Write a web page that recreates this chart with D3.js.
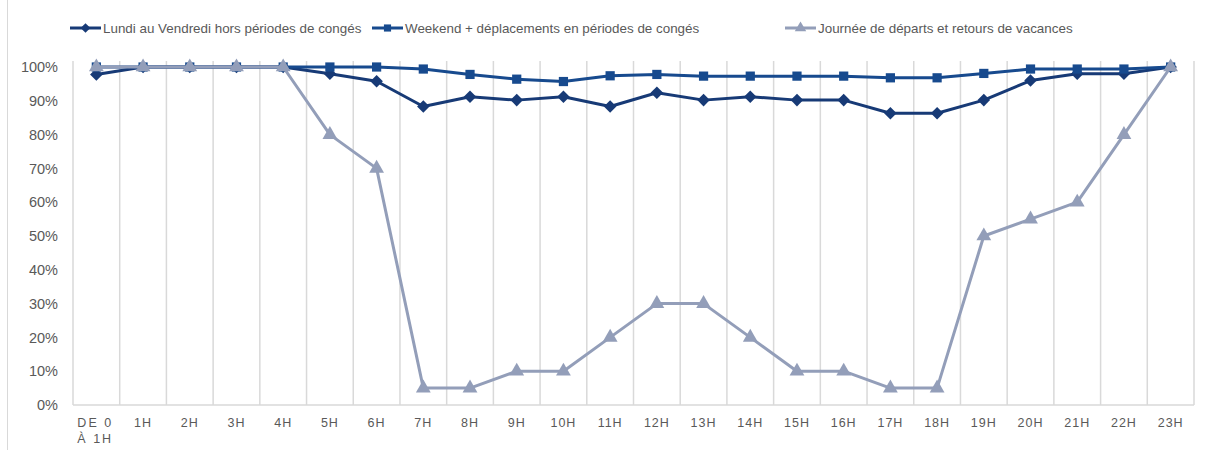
<!DOCTYPE html>
<html><head><meta charset="utf-8">
<script src="https://cdn.jsdelivr.net/npm/d3@7"></script>
<style>
body{margin:0;background:#fff;}
svg{display:block;font-family:"Liberation Sans",Arial,sans-serif;}
</style></head>
<body>
<svg id="chart" width="1214" height="450"></svg>
<script>
const categories = ["DE 0\nÀ 1H","1H","2H","3H","4H","5H","6H","7H","8H","9H","10H","11H","12H","13H","14H","15H","16H","17H","18H","19H","20H","21H","22H","23H"];
const seriesNames = ["Lundi au Vendredi hors périodes de congés","Weekend + déplacements en périodes de congés","Journée de départs et retours de vacances"];
const semaine = [97.8,100,100,100,100,98,95.8,88.3,91.2,90.2,91.2,88.3,92.4,90.2,91.2,90.2,90.2,86.3,86.3,90.2,96,98,98,100];
const weekend = [100,100,100,100,100,100,100,99.4,97.8,96.4,95.7,97.4,97.8,97.3,97.3,97.3,97.3,96.8,96.8,98.1,99.4,99.4,99.4,100];
const vacances = [100,100,100,100,100,80,70,5,5,10,10,20,30,30,20,10,10,5,5,50,55,60,80,100];
const yTicks = [0,10,20,30,40,50,60,70,80,90,100];

(function(){
const colors = ["#173a76","#174a8e","#939eb9"];
const symbols = [d3.symbolDiamond2, d3.symbolSquare, d3.symbolTriangle];
const symSizes = [100, 85, 95];
const allSeries = [semaine, weekend, vacances];

const svg = d3.select("#chart");
const mLeft = 73, mRight = 1194, mTop = 67, mBottom = 405;

svg.append("line").attr("x1",7.5).attr("x2",7.5).attr("y1",0).attr("y2",450).attr("stroke","#d9d9d9").attr("stroke-width",1);

const x = d3.scaleBand().domain(categories).range([mLeft,mRight]).padding(0);
const y = d3.scaleLinear().domain([0,100]).range([mBottom,mTop]);

const bounds = categories.map(c => x(c)).concat([mRight]);
svg.append("g").selectAll("line").data(bounds).join("line")
  .attr("x1",d=>d).attr("x2",d=>d).attr("y1",mTop-6).attr("y2",mBottom)
  .attr("stroke","#d9d9d9").attr("stroke-width",1.5);

svg.append("line").attr("x1",mLeft).attr("x2",mRight).attr("y1",mBottom).attr("y2",mBottom)
  .attr("stroke","#d9d9d9").attr("stroke-width",1.5);

const yAxis = d3.axisLeft(y).tickValues(yTicks).tickFormat(d=>d+"%").tickSize(0).tickPadding(0);
const gy = svg.append("g").attr("transform",`translate(${mLeft-15},0)`).call(yAxis);
gy.select(".domain").remove();
gy.selectAll("text").attr("font-size","14.5px").attr("fill","#595959").attr("font-family","'Liberation Sans',Arial,sans-serif");

const xAxis = d3.axisBottom(x).tickSize(0).tickPadding(0).tickFormat("");
const gx = svg.append("g").attr("transform",`translate(0,${mBottom})`).call(xAxis);
gx.select(".domain").remove();
gx.selectAll(".tick").each(function(d){
  const lines = d.split("\n");
  const multi = lines.length > 1;
  const t = d3.select(this).append("text").attr("fill","#595959").attr("font-size","12.5px")
    .attr("letter-spacing", multi ? "2px" : "1px").attr("text-anchor", multi ? "start" : "middle").attr("y",22)
    .attr("font-family","'Liberation Sans',Arial,sans-serif");
  lines.forEach((ln,i)=>{
    t.append("tspan").attr("x", multi ? -19 : 0).attr("dy", i===0?0:15.5).text(ln);
  });
});

const lineGen = d3.line().x((d,i)=>x(categories[i])+x.bandwidth()/2).y(d=>y(d));
[0,1,2].forEach(s=>{
  svg.append("path").datum(allSeries[s]).attr("d",lineGen)
    .attr("fill","none").attr("stroke",colors[s]).attr("stroke-width",3).attr("stroke-linejoin","round");
  svg.append("g").selectAll("path").data(allSeries[s]).join("path")
    .attr("d",d3.symbol().type(symbols[s]).size(symSizes[s]))
    .attr("transform",(d,i)=>`translate(${x(categories[i])+x.bandwidth()/2},${y(d)})`)
    .attr("fill",colors[s]);
});

const legendX = [70,372,785];
seriesNames.forEach((name,s)=>{
  const g = svg.append("g").attr("transform",`translate(${legendX[s]},28)`);
  g.append("line").attr("x1",0).attr("x2",31).attr("y1",0).attr("y2",0).attr("stroke",colors[s]).attr("stroke-width",3);
  g.append("path").attr("d",d3.symbol().type(symbols[s]).size(symSizes[s]*0.6)).attr("transform","translate(15.5,0)").attr("fill",colors[s]);
  g.append("text").attr("x",33).attr("y",5).attr("font-size","13.4px").attr("fill","#595959").text(name);
});
})();
</script>
</body></html>
